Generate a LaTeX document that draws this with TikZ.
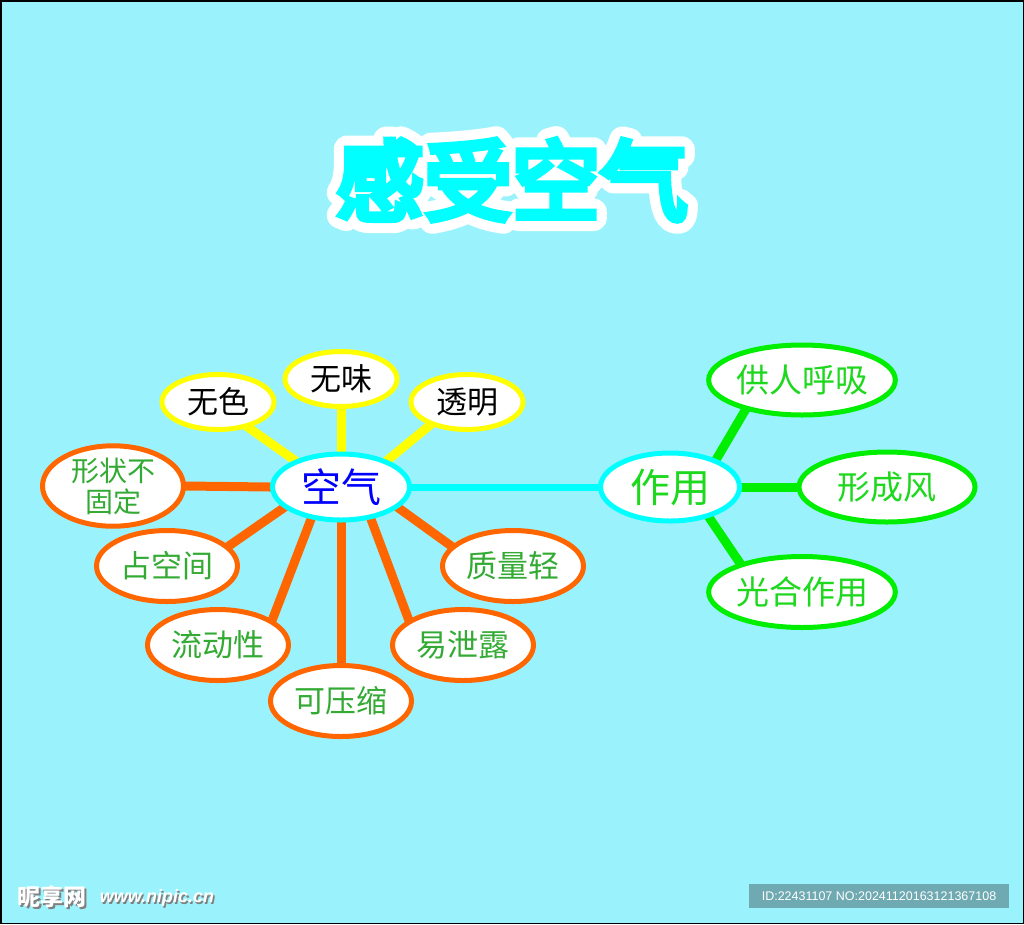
\documentclass[tikz,border=0pt]{standalone}
\definecolor{airbg}{HTML}{9AF3FC}
\definecolor{aircyan}{HTML}{00FFFF}
\definecolor{airyellow}{HTML}{FFFF00}
\definecolor{airorange}{HTML}{FF6600}
\definecolor{airgreen}{HTML}{00EE00}
\definecolor{airtextgreen}{HTML}{33AA33}
\definecolor{airtextlime}{HTML}{1ED81E}
\definecolor{airblue}{HTML}{0000FF}
\definecolor{airgrey}{HTML}{6FA9B1}
\usepackage{fontspec}
\setmainfont{Liberation Sans}
\newfontfamily\cjk{Noto Sans CJK SC}
\newfontfamily\titlecjk[FakeBold=7]{Noto Sans CJK SC}
\newfontfamily\titlerim[FakeBold=30]{Noto Sans CJK SC}
\usepackage{tikz}
\usetikzlibrary{shapes.geometric}
\pgfdeclarelayer{back}
\pgfdeclarelayer{links}
\pgfsetlayers{back,links,main}

\tikzset{
  bubble/.style={ellipse, fill=white, line width=5pt, inner sep=0pt},
  hub/.style={bubble, draw=aircyan, minimum width=137pt, minimum height=66pt,
    font=\cjk\fontsize{40}{42}\selectfont},
  yelbub/.style={bubble, draw=airyellow, minimum width=112pt, minimum height=55pt,
    font=\cjk\fontsize{31}{33}\selectfont},
  orgbub/.style={bubble, draw=airorange, minimum width=141pt, minimum height=71pt,
    text=airtextgreen, font=\cjk\fontsize{31}{33}\selectfont},
  grnbub/.style={bubble, draw=airgreen, minimum width=177pt, minimum height=70pt,
    text=airtextlime, font=\cjk\fontsize{33}{35}\selectfont},
  link/.style={line width=9pt, shorten <=-4pt, shorten >=-4pt},
}

\begin{document}
\begin{tikzpicture}[x=1pt, y=-1pt]
    \useasboundingbox (0,0) rectangle (1024,924);
    % Frame
    \begin{pgfonlayer}{back}
      \draw[fill=airbg, draw=black, line width=1.5pt] (0.75,0.75) rectangle (1023.25,923.25);
    \end{pgfonlayer}
    % Title with white rim
    \begin{scope}[line join=round]
      \node[font=\titlerim\fontsize{88}{90}\selectfont, text=white] (rim) at (512,180) {感受空气};
    \end{scope}
    \node[font=\titlecjk\fontsize{88}{90}\selectfont, text=aircyan] (title) at (512,180) {感受空气};
    % Hubs
    \node[hub, text=airblue] (air) at (341,487) {空气};
    \node[hub, text=airtextlime, minimum width=139pt, minimum height=68pt] (use) at (670,487) {作用};
    % Yellow bubbles
    \node[yelbub] (colour) at (218,402) {无色};
    \node[yelbub] (smell) at (341,379) {无味};
    \node[yelbub] (clear) at (467,402) {透明};
    % Orange bubbles
    \node[orgbub, align=center, font=\cjk\fontsize{28}{31}\selectfont]
      (shape) at (113,486) {形状不\\固定};
    \node[orgbub] (space) at (167,566) {占空间};
    \node[orgbub] (flow) at (218,645) {流动性};
    \node[orgbub] (press) at (341,701) {可压缩};
    \node[orgbub] (leak) at (463,645) {易泄露};
    \node[orgbub] (light) at (513,566) {质量轻};
    % Green bubbles
    \node[grnbub] (breath) at (802,380) {供人呼吸};
    \node[grnbub, minimum width=176pt] (wind) at (887,487) {形成风};
    \node[grnbub, minimum height=71pt] (photo) at (802,592) {光合作用};
    % Links
    \begin{pgfonlayer}{links}
      \draw[link, airyellow] (air.150) -- (colour.320);
      \draw[link, airyellow] (air.90) -- (smell.270);
      \draw[link, airyellow] (air.30) -- (clear.212);
      \draw[link, airorange] (air.180) -- (shape.0);
      \draw[link, airorange] (air.200) -- (space.18);
      \draw[link, airorange] (air.227) -- (flow.25);
      \draw[link, airorange] (air.270) -- (press.90);
      \draw[link, airorange] (air.313) -- (leak.155);
      \draw[link, airorange] (air.340) -- (light.162);
      \draw[link, aircyan, line width=7pt] (air.0) -- (use.180);
      \draw[link, airgreen] (use.31) -- (breath.208);
      \draw[link, airgreen] (use.0) -- (wind.180);
      \draw[link, airgreen] (use.322) -- (photo.155);
    \end{pgfonlayer}
    % Watermark
    \node[text=gray, font=\cjk\bfseries\fontsize{23}{24}\selectfont] (wmshade) at (53.5,898.5) {昵享网};
    \node[text=white, font=\cjk\bfseries\fontsize{23}{24}\selectfont] (wm) at (52,897) {昵享网};
    \node[text=gray, font=\itshape\bfseries\fontsize{18}{20}\selectfont] (siteshade) at (158.5,899.5) {www.nipic.cn};
    \node[text=white, font=\itshape\bfseries\fontsize{18}{20}\selectfont] (site) at (157,898) {www.nipic.cn};
    \node[fill=airgrey, text=white, minimum width=260pt, minimum height=24pt, inner sep=0pt,
      font=\fontsize{12.5}{14}\selectfont] (stamp) at (879,896) {ID:22431107 NO:20241120163121367108};
  \end{tikzpicture}
\end{document}
